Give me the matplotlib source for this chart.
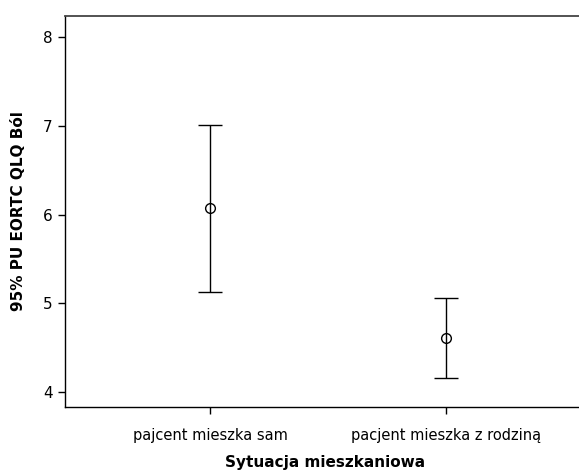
import numpy as np
import matplotlib
matplotlib.use('Agg')
import matplotlib.pyplot as plt

# data
categories = ['pajcent mieszka sam', 'pacjent mieszka z rodziną']
means = [6.07, 4.61]
lower = [5.13, 4.16]
upper = [7.01, 5.06]


def main():
    fig = plt.figure(figsize=(5.79, 4.73), dpi=100)
    ax = fig.add_axes([65 / 579, 1 - 407 / 473, 1 - 65 / 579 + 0.01, (407 - 16) / 473])

    x = np.arange(1, len(categories) + 1)
    m = np.array(means)
    yerr = [m - np.array(lower), np.array(upper) - m]
    ax.errorbar(x, m, yerr=yerr, fmt='o', color='black', mfc='none', mec='black',
                ms=7, mew=1.0, elinewidth=1.0, capsize=8.3, capthick=1.0)

    ax.set_xlim(1 - (210 - 65) / 236, 2 + (585 - 446) / 236)
    ax.set_ylim(4 - 15 / 88.7, 8 + 21 / 88.7)
    ax.set_yticks([4, 5, 6, 7, 8])
    ax.set_xticks(x)
    ax.set_xticklabels(categories)
    ax.tick_params(axis='both', length=5, width=1.0, direction='out')
    ax.tick_params(axis='x', labelsize=10.5, pad=10)
    ax.tick_params(axis='y', labelsize=11, pad=4)

    ax.spines['right'].set_visible(False)
    for s in ['left', 'bottom']:
        ax.spines[s].set_linewidth(1.0)
    ax.spines['top'].set_linewidth(1.3)
    ax.spines['top'].set_color('#444444')

    ax.set_xlabel('Sytuacja mieszkaniowa', fontsize=11, fontweight='bold', labelpad=9)
    ax.set_ylabel('95% PU EORTC QLQ Ból', fontsize=11, fontweight='bold', labelpad=12)

    fig.savefig('out.png', dpi=100)


if __name__ == '__main__':
    main()
